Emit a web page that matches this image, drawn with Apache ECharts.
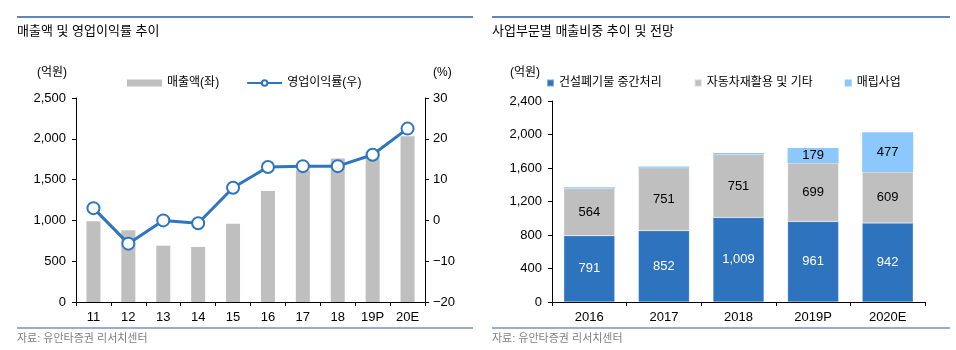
<!DOCTYPE html>
<html>
<head>
<meta charset="utf-8" />
<script src="https://cdn.jsdelivr.net/npm/echarts@6/dist/echarts.min.js"></script>
<style>
    body { margin: 0; background: #fff; }
    #chart { width: 956px; height: 350px; }
</style>
</head>
<body>
<div id="chart"></div>
<script>
    // 매출액 및 영업이익률 추이
    var years = ['11', '12', '13', '14', '15', '16', '17', '18', '19P', '20E']
    var sales = [990, 880, 690, 675, 960, 1360, 1610, 1760, 1840, 2030]
    var opMargin = [3.0, -5.7, 0.0, -0.7, 8.0, 13.1, 13.3, 13.3, 16.1, 22.5]

    // 사업부문별 매출비중 추이 및 전망
    var segYears = ['2016', '2017', '2018', '2019P', '2020E']
    var wasteMid = [791, 852, 1009, 961, 942]
    var carRecycle = [564, 751, 751, 699, 609]
    var landfill = [14, 16, 18, 179, 477]

    var FONT = '"Liberation Sans", "Noto Sans CJK KR", sans-serif'
    var LINE_BLUE = '#2e5ea6'

    function comma(v) {
        return String(v).replace(/\B(?=(\d{3})+(?!\d))/g, ',')
    }

    var axisText = { color: '#000', fontSize: 13, fontFamily: FONT }
    var axisLine = { show: true, lineStyle: { color: '#000', width: 1 } }
    var axisTick = { show: true, inside: false, length: 4, lineStyle: { color: '#000' } }

    var option = {
        animation: false,
        textStyle: { fontFamily: FONT },
        graphic: [
            // 상단 구분선
            { type: 'line', shape: { x1: 17, y1: 17, x2: 473, y2: 17 }, style: { stroke: LINE_BLUE, lineWidth: 1.5 } },
            { type: 'line', shape: { x1: 492, y1: 17, x2: 950, y2: 17 }, style: { stroke: LINE_BLUE, lineWidth: 1.5 } },
            // 하단 구분선
            { type: 'line', shape: { x1: 17, y1: 328, x2: 473, y2: 328 }, style: { stroke: LINE_BLUE, lineWidth: 1.2 } },
            { type: 'line', shape: { x1: 492, y1: 328, x2: 950, y2: 328 }, style: { stroke: LINE_BLUE, lineWidth: 1.2 } },
            // 제목
            { type: 'text', left: 17, top: 25, style: { text: '매출액 및 영업이익률 추이', fill: '#000', font: '13px ' + FONT } },
            { type: 'text', left: 492, top: 25, style: { text: '사업부문별 매출비중 추이 및 전망', fill: '#000', font: '13px ' + FONT } },
            // 단위
            { type: 'text', left: 37, top: 67, style: { text: '(억원)', fill: '#000', font: '12px ' + FONT } },
            { type: 'text', left: 433, top: 67, style: { text: '(%)', fill: '#000', font: '12px ' + FONT } },
            { type: 'text', left: 510, top: 67, style: { text: '(억원)', fill: '#000', font: '12px ' + FONT } },
            // 출처
            { type: 'text', left: 17, top: 333, style: { text: '자료: 유안타증권 리서치센터', fill: '#7f7f7f', font: '11px ' + FONT } },
            { type: 'text', left: 492, top: 333, style: { text: '자료: 유안타증권 리서치센터', fill: '#7f7f7f', font: '11px ' + FONT } }
        ],
        legend: [
            {
                left: 127, top: 77, padding: 0,
                itemWidth: 35, itemHeight: 7, itemGap: 27,
                textStyle: { color: '#000', fontSize: 12, fontFamily: FONT },
                data: [
                    { name: '매출액(좌)', icon: 'rect' },
                    { name: '영업이익률(우)' }
                ]
            },
            {
                left: 546, top: 77, padding: 0,
                itemWidth: 7, itemHeight: 7, itemGap: 32,
                textStyle: { color: '#000', fontSize: 12, fontFamily: FONT },
                data: [
                    { name: '건설폐기물 중간처리', icon: 'rect' },
                    { name: '자동차재활용 및 기타', icon: 'rect' },
                    { name: '매립사업', icon: 'rect' }
                ]
            }
        ],
        grid: [
            { left: 76, right: 531, top: 98, bottom: 48 },
            { left: 552, right: 31, top: 101, bottom: 48 }
        ],
        xAxis: [
            {
                type: 'category', gridIndex: 0, data: years, boundaryGap: true,
                axisLine: axisLine, axisTick: axisTick,
                axisLabel: Object.assign({ margin: 9 }, axisText)
            },
            {
                type: 'category', gridIndex: 1, data: segYears, boundaryGap: true,
                axisLine: axisLine, axisTick: axisTick,
                axisLabel: Object.assign({ margin: 9 }, axisText)
            }
        ],
        yAxis: [
            {
                type: 'value', gridIndex: 0, min: 0, max: 2500, interval: 500,
                axisLine: axisLine, axisTick: axisTick, splitLine: { show: false },
                axisLabel: Object.assign({ margin: 10, formatter: comma }, axisText)
            },
            {
                type: 'value', gridIndex: 0, position: 'right', min: -20, max: 30, interval: 10,
                axisLine: axisLine, axisTick: axisTick, splitLine: { show: false },
                axisLabel: Object.assign({
                    margin: 8,
                    formatter: function (v) { return String(v).replace('-', '\u2212') }
                }, axisText)
            },
            {
                type: 'value', gridIndex: 1, min: 0, max: 2400, interval: 400,
                axisLine: axisLine, axisTick: axisTick, splitLine: { show: false },
                axisLabel: Object.assign({ margin: 10, formatter: comma }, axisText)
            }
        ],
        series: [
            {
                name: '매출액(좌)', type: 'bar', xAxisIndex: 0, yAxisIndex: 0,
                data: sales, barWidth: 14,
                itemStyle: { color: '#bfbfbf' }
            },
            {
                name: '영업이익률(우)', type: 'line', xAxisIndex: 0, yAxisIndex: 1,
                data: opMargin,
                symbol: 'emptyCircle', symbolSize: 12,
                lineStyle: { color: '#2e75c0', width: 3 },
                itemStyle: { color: '#2e75c0', borderWidth: 2.5 }
            },
            {
                name: '건설폐기물 중간처리', type: 'bar', stack: 'seg', xAxisIndex: 1, yAxisIndex: 2,
                data: wasteMid, barWidth: 51,
                itemStyle: { color: '#2e73be', borderColor: 'rgba(255,255,255,0.4)', borderWidth: 0.5 },
                label: { show: true, position: 'inside', color: '#fff', fontSize: 13, fontFamily: FONT,
                    formatter: function (p) { return comma(p.value) } }
            },
            {
                name: '자동차재활용 및 기타', type: 'bar', stack: 'seg', xAxisIndex: 1, yAxisIndex: 2,
                data: carRecycle, barWidth: 51,
                itemStyle: { color: '#bfbfbf', borderColor: 'rgba(255,255,255,0.4)', borderWidth: 0.5 },
                label: { show: true, position: 'inside', color: '#000', fontSize: 13, fontFamily: FONT,
                    formatter: function (p) { return comma(p.value) } }
            },
            {
                name: '매립사업', type: 'bar', stack: 'seg', xAxisIndex: 1, yAxisIndex: 2,
                data: landfill, barWidth: 51,
                itemStyle: { color: '#8cc8fb' },
                label: { show: true, position: 'inside', color: '#000', fontSize: 13, fontFamily: FONT,
                    formatter: function (p) { return p.value > 50 ? comma(p.value) : '' } }
            }
        ]
    }

    var chart = echarts.init(document.getElementById('chart'))
    chart.setOption(option)
</script>
</body>
</html>
